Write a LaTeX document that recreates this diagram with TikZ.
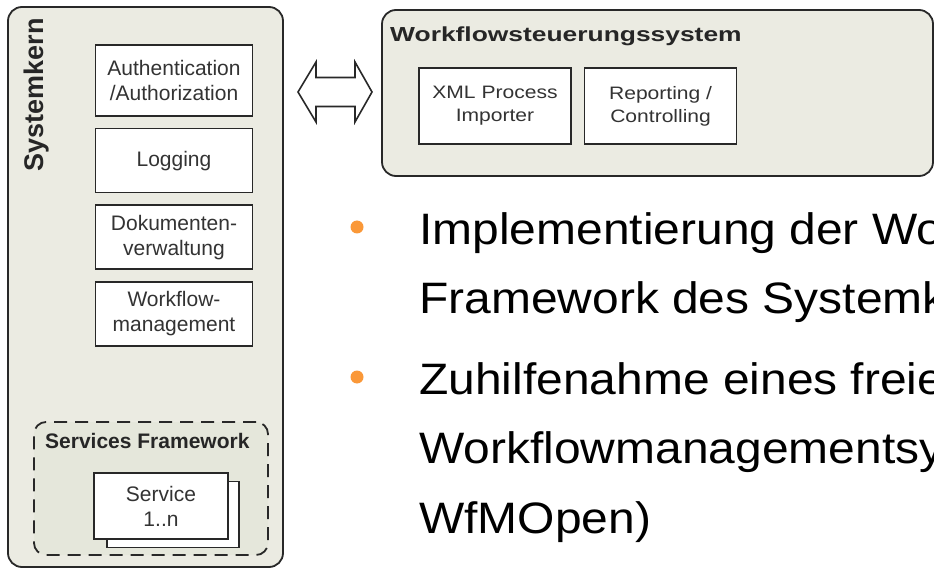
\documentclass[tikz,border=0pt]{standalone}
\usepackage{fontspec}
\setmainfont{Liberation Sans}
\newfontfamily\wffont[FakeStretch=1.17]{Liberation Sans}
\newfontfamily\wfheadfont[FakeStretch=1.3]{Liberation Sans}
\newfontfamily\bulletfont[FakeStretch=1.09]{Liberation Sans}
\usepackage{xcolor}
\usetikzlibrary{positioning}
\definecolor{kernfill}{RGB}{235,235,226}
\definecolor{svcfill}{RGB}{229,231,219}
\definecolor{linegray}{RGB}{40,40,40}
\definecolor{dotorange}{RGB}{250,152,56}
\tikzset{
  panel/.style={draw=linegray, line width=1.8pt, fill=kernfill, rounded corners=14pt, inner sep=0pt},
  svcpanel/.style={draw=linegray, line width=1.8pt, fill=svcfill, rounded corners=12pt, dash pattern=on 13pt off 8pt, inner sep=0pt},
  modbox/.style={draw=linegray, line width=1.6pt, fill=white, text=black!80, align=center, minimum width=157pt, inner sep=0pt, font=\fontsize{21}{25}\selectfont},
  wfbox/.style={modbox, minimum width=152pt, minimum height=76pt, font=\wffont\fontsize{18}{23}\selectfont},
  boxtitle/.style={text=black!85, inner sep=0pt, font=\bfseries\fontsize{21}{24}\selectfont},
  biarrow/.style={draw=linegray, line width=1.6pt, fill=white, line join=miter},
  dot/.style={circle, fill=dotorange, minimum size=13pt, inner sep=0pt},
  bullettext/.style={anchor=north west, inner sep=0pt, align=left, font=\bulletfont\fontsize{44}{69.5}\selectfont}
}
\begin{document}
\begin{tikzpicture}[x=1pt, y=-1pt, node distance=11pt]
\useasboundingbox (0,0) rectangle (934,569);
\clip (0,0) rectangle (934,569);
% Systemkern %
\node[panel, minimum width=275pt, minimum height=560pt] (kern) at (145.5,287) {};
\node[boxtitle, rotate=90, anchor=base east, font=\bfseries\fontsize{27}{30}\selectfont] (kerntitle) at (43,18) {Systemkern};
\node[modbox, minimum height=71pt] (auth) at (174,80.5) {Authentication\\/Authorization};
\node[modbox, minimum height=64pt, below=of auth] (logging) {Logging};
\node[modbox, minimum height=64pt, below=of logging] (docs) {Dokumenten-\\verwaltung};
\node[modbox, minimum height=64pt, below=of docs] (wfm) {Workflow-\\management};
% services framework %
\node[svcpanel, minimum width=234pt, minimum height=133pt] (svcfw) at (151,488.5) {};
\node[boxtitle, anchor=base west] (svctitle) at (45,448) {Services Framework};
\node[modbox, minimum width=132pt, minimum height=66pt] (svcback) at (173,514.5) {};
\node[modbox, minimum width=134pt, minimum height=66pt] (svc) at (161,506) {Service\\1..n};
% Workflowsteuerungssystem %
\node[panel, minimum width=551pt, minimum height=166pt] (wfs) at (657.5,93) {};
\node[boxtitle, anchor=base west, font=\wfheadfont\bfseries\fontsize{20.3}{24}\selectfont] (wfstitle) at (390,42) {Workflowsteuerungssystem};
\node[wfbox] (xmlimp) at (495,106) {XML Process\\Importer};
\node[wfbox, right=12pt of xmlimp] (report) {Reporting /\\Controlling};
% link %
\draw[biarrow] (298,92) -- (316,62) -- (316,77.5) -- (355,77.5) -- (355,62) -- (372,92)
  -- (355,122) -- (355,106.5) -- (316,106.5) -- (316,122) -- cycle;
% bullets %
\node[dot] (dot1) at (357,227) {};
\node[bullettext] (item1) at (419,212) {Implementierung der Wo\\Framework des Systemk};
\node[dot] (dot2) at (357,377) {};
\node[bullettext] (item2) at (419,362) {Zuhilfenahme eines freie\\Workflowmanagementsy\\WfMOpen)};
\end{tikzpicture}
\end{document}
